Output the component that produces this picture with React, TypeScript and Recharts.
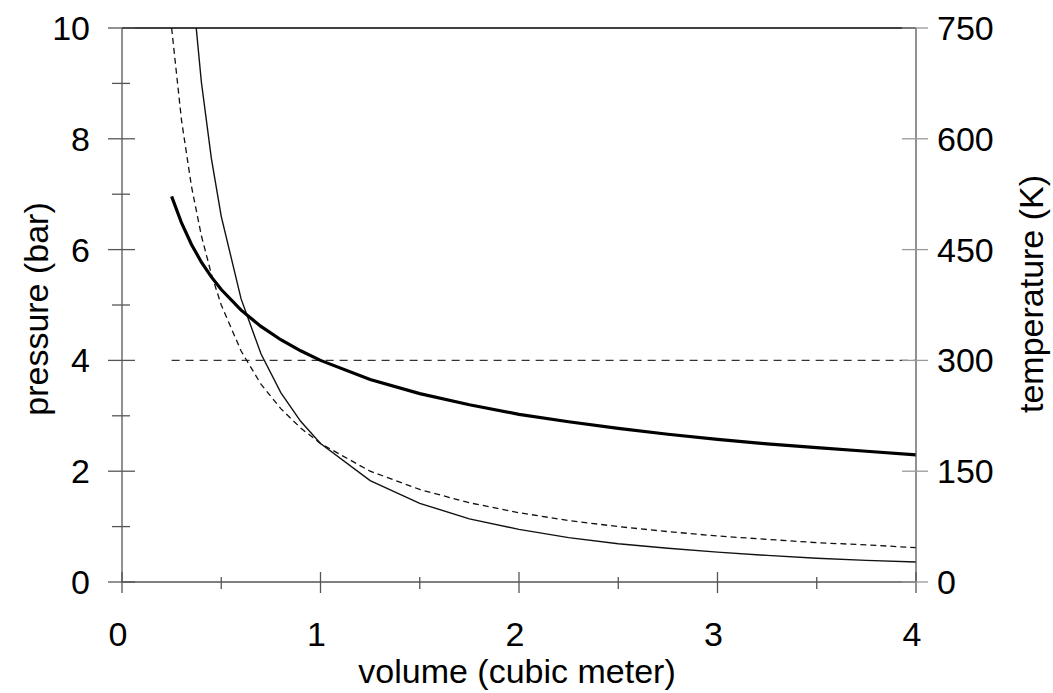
import React from "react";
import { Line, LineChart, ReferenceLine, XAxis, YAxis } from "recharts";

// volume in cubic meter
const volume = [0.25, 0.3, 0.35, 0.4, 0.45, 0.5, 0.6, 0.7, 0.8, 0.9, 1, 1.25, 1.5, 1.75, 2, 2.25, 2.5, 2.75, 3, 3.25, 3.5, 3.75, 4];
// pressure (bar), left axis
const pressureIsothermal = [10, 8.33, 7.14, 6.25, 5.56, 5, 4.17, 3.57, 3.13, 2.78, 2.5, 2, 1.67, 1.43, 1.25, 1.11, 1, 0.91, 0.83, 0.77, 0.71, 0.67, 0.62];
const pressureAdiabatic = [17.4, 13.5, 10.9, 9.02, 7.65, 6.6, 5.11, 4.12, 3.42, 2.9, 2.5, 1.83, 1.42, 1.14, 0.95, 0.8, 0.69, 0.61, 0.54, 0.48, 0.43, 0.39, 0.36];
// temperature (K), right axis
const temperatureIsothermal = [300, 300, 300, 300, 300, 300, 300, 300, 300, 300, 300, 300, 300, 300, 300, 300, 300, 300, 300, 300, 300, 300, 300];
const temperatureAdiabatic = [522, 486, 457, 433, 413, 396, 368, 346, 328, 313, 300, 274, 255, 240, 227, 217, 208, 200, 193, 187, 182, 177, 172];

const volumeTicks = [0, 0.5, 1, 1.5, 2, 2.5, 3, 3.5, 4];
const pressureTicks = [0, 1, 2, 3, 4, 5, 6, 7, 8, 9, 10];
const temperatureTicks = [0, 150, 300, 450, 600, 750];

const data = volume.map((v, i) => ({
  v,
  pIso: pressureIsothermal[i],
  pAd: pressureAdiabatic[i],
  tIso: temperatureIsothermal[i],
  tAd: temperatureAdiabatic[i],
}));

const font = "'Liberation Sans', Arial, sans-serif";
const axisGray = "#555";

const PressureTick = (props: any) => {
  const { x, y, payload } = props;
  const major = payload.value % 2 === 0;
  return (
    <g>
      <line x1={x - (major ? 14 : 10)} x2={x + (major ? 13 : 8)} y1={y} y2={y} stroke={axisGray} strokeWidth={1.3} />
      {major && (
        <text x={x - 32} y={y} textAnchor="end" dominantBaseline="central" fontSize={34} fontFamily={font} fill="#000">
          {payload.value}
        </text>
      )}
    </g>
  );
};

const VolumeTick = (props: any) => {
  const { x, y, payload } = props;
  const major = Number.isInteger(payload.value);
  return (
    <g>
      <line x1={x} x2={x} y1={y - (major ? 10 : 5)} y2={y + (major ? 11 : 7)} stroke={axisGray} strokeWidth={1.3} />
      {major && (
        <text x={x - 4} y={y + 52} textAnchor="middle" dominantBaseline="central" fontSize={34} fontFamily={font} fill="#000">
          {payload.value}
        </text>
      )}
    </g>
  );
};

const TemperatureTick = (props: any) => {
  const { x, y, payload } = props;
  return (
    <g>
      <line x1={x - 14} x2={x + 12} y1={y} y2={y} stroke="#999" strokeWidth={1.3} />
      <text x={x + 21} y={y} textAnchor="start" dominantBaseline="central" fontSize={34} fontFamily={font} fill="#000">
        {payload.value}
      </text>
    </g>
  );
};

export default function App() {
  return (
    <div style={{ position: "absolute", left: 0, top: 0, background: "#fff" }}>
      <LineChart width={1053} height={693} data={data} margin={{ top: 28, right: 0, bottom: 0, left: 0 }}>
        <XAxis
          dataKey="v"
          type="number"
          domain={[0, 4]}
          ticks={volumeTicks}
          interval={0}
          height={111}
          tickSize={0}
          tickMargin={0}
          tickLine={false}
          axisLine={{ stroke: axisGray, strokeWidth: 1.3 }}
          tick={VolumeTick}
        />
        <YAxis
          yAxisId="p"
          domain={[0, 10]}
          allowDataOverflow
          ticks={pressureTicks}
          interval={0}
          width={122}
          tickSize={0}
          tickMargin={0}
          tickLine={false}
          axisLine={{ stroke: axisGray, strokeWidth: 1.3 }}
          tick={PressureTick}
        />
        <YAxis
          yAxisId="t"
          orientation="right"
          domain={[0, 750]}
          allowDataOverflow
          ticks={temperatureTicks}
          interval={0}
          width={137}
          tickSize={0}
          tickMargin={0}
          tickLine={false}
          axisLine={{ stroke: axisGray, strokeWidth: 1.3 }}
          tick={TemperatureTick}
        />
        <ReferenceLine yAxisId="p" y={10} stroke="#000" strokeWidth={1.3} />
        <Line yAxisId="t" dataKey="tIso" type="linear" stroke="#333" strokeWidth={1.2} strokeDasharray="8 6" dot={false} activeDot={false} isAnimationActive={false} />
        <Line yAxisId="p" dataKey="pIso" type="linear" stroke="#111" strokeWidth={1.3} strokeDasharray="6 4" dot={false} activeDot={false} isAnimationActive={false} />
        <Line yAxisId="p" dataKey="pAd" type="linear" stroke="#111" strokeWidth={1.4} dot={false} activeDot={false} isAnimationActive={false} />
        <Line yAxisId="t" dataKey="tAd" type="linear" stroke="#000" strokeWidth={3.2} dot={false} activeDot={false} isAnimationActive={false} />
        <text x={517} y={683} textAnchor="middle" fontSize={34} fontFamily={font} fill="#000">
          volume (cubic meter)
        </text>
        <text transform="translate(36,309) rotate(-90)" textAnchor="middle" dominantBaseline="central" fontSize={34} fontFamily={font} fill="#000">
          pressure (bar)
        </text>
        <text transform="translate(1031,294) rotate(-90)" textAnchor="middle" dominantBaseline="central" fontSize={34} fontFamily={font} fill="#000">
          temperature (K)
        </text>
      </LineChart>
    </div>
  );
}
